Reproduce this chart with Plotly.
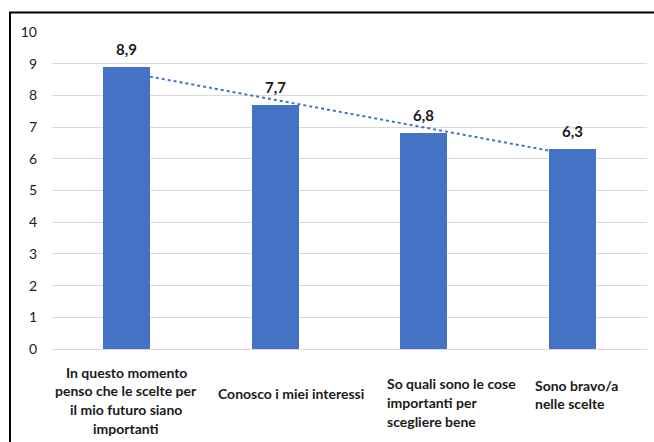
import numpy as np
import plotly.graph_objects as go

# Survey items (category labels, with explicit line breaks) and mean scores
categories = [
    "In questo momento<br>penso che le scelte per<br>il mio futuro siano<br>importanti",
    "Conosco i miei interessi",
    "So quali sono le cose<br>importanti per<br>scegliere bene",
    "Sono bravo/a<br>nelle scelte",
]
scores = [8.9, 7.7, 6.8, 6.3]
y_ticks = list(range(0, 11))

BLUE = "#4472C4"
FONT = "Lato"
TEXT = "#1a1a1a"

W, H = 654, 442
M = dict(l=52, r=7, t=32, b=93)
plot_h = H - M["t"] - M["b"]
plot_w = W - M["l"] - M["r"]

pos = np.arange(len(categories))

fig = go.Figure()

fig.add_trace(go.Bar(
    x=pos, y=scores, width=0.315,
    marker=dict(color=BLUE, line=dict(width=0)),
    hoverinfo="skip", showlegend=False,
))

# Linear trend through the scores, drawn behind the bars
slope, intercept = np.polyfit(pos, scores, 1)
fig.add_shape(
    type="line", xref="x", yref="y", layer="between",
    x0=pos[0], y0=intercept + slope * pos[0],
    x1=pos[-1], y1=intercept + slope * pos[-1],
    line=dict(color=BLUE, width=2, dash="dot"),
)

# Value labels above the bars (comma decimal)
for p, v in zip(pos, scores):
    fig.add_annotation(
        x=p, y=v, xref="x", yref="y", yanchor="bottom", yshift=7,
        text=f"<b>{v:.1f}</b>".replace(".", ","), showarrow=False,
        font=dict(family=FONT, size=15, color=TEXT),
    )

# Category labels under the axis, one annotation per text line so the
# line spacing can be set freely.
# (x offset in category units, xanchor, pixel y of first line centre)
label_style = [
    (0.0, "center", 372),
    (-0.386, "left", 393),
    (-0.25, "left", 383.5),
    (-0.253, "left", 385),
]
LINE_STEP = 18.8
for p, cat, (dx, xa, y_first) in zip(pos, categories, label_style):
    for i, line in enumerate(cat.split("<br>")):
        ypx = y_first + i * LINE_STEP
        fig.add_annotation(
            x=p + dx, y=(H - M["b"] - ypx) / plot_h,
            xref="x", yref="paper", xanchor=xa, yanchor="middle",
            xshift=-2 if xa == "left" else 0,
            text=f"<b>{line}</b>", showarrow=False,
            font=dict(family=FONT, size=14, color=TEXT),
        )

# Chart frame (top and left edges fall inside the canvas)
fig.add_shape(
    type="rect", xref="paper", yref="paper",
    x0=(10 - M["l"]) / plot_w, x1=1.3,
    y0=-0.5, y1=(H - M["b"] - 12.5) / plot_h,
    line=dict(color="black", width=2), layer="above",
)

fig.update_layout(
    width=W, height=H,
    margin=M,
    paper_bgcolor="white", plot_bgcolor="white",
    separators=",.",
    bargap=0,
    xaxis=dict(
        range=[-0.5, len(categories) - 0.5],
        showticklabels=False, showgrid=False, zeroline=False,
        showline=False, ticks="",
    ),
    yaxis=dict(
        range=[0, 10], tickvals=y_ticks,
        showgrid=True, gridcolor="#D9D9D9", gridwidth=1,
        zeroline=True, zerolinecolor="#D9D9D9", zerolinewidth=1,
        showline=False, ticks="", ticklabelstandoff=14,
        tickfont=dict(family=FONT, size=14, color=TEXT),
    ),
)

fig.write_html("out.html")
